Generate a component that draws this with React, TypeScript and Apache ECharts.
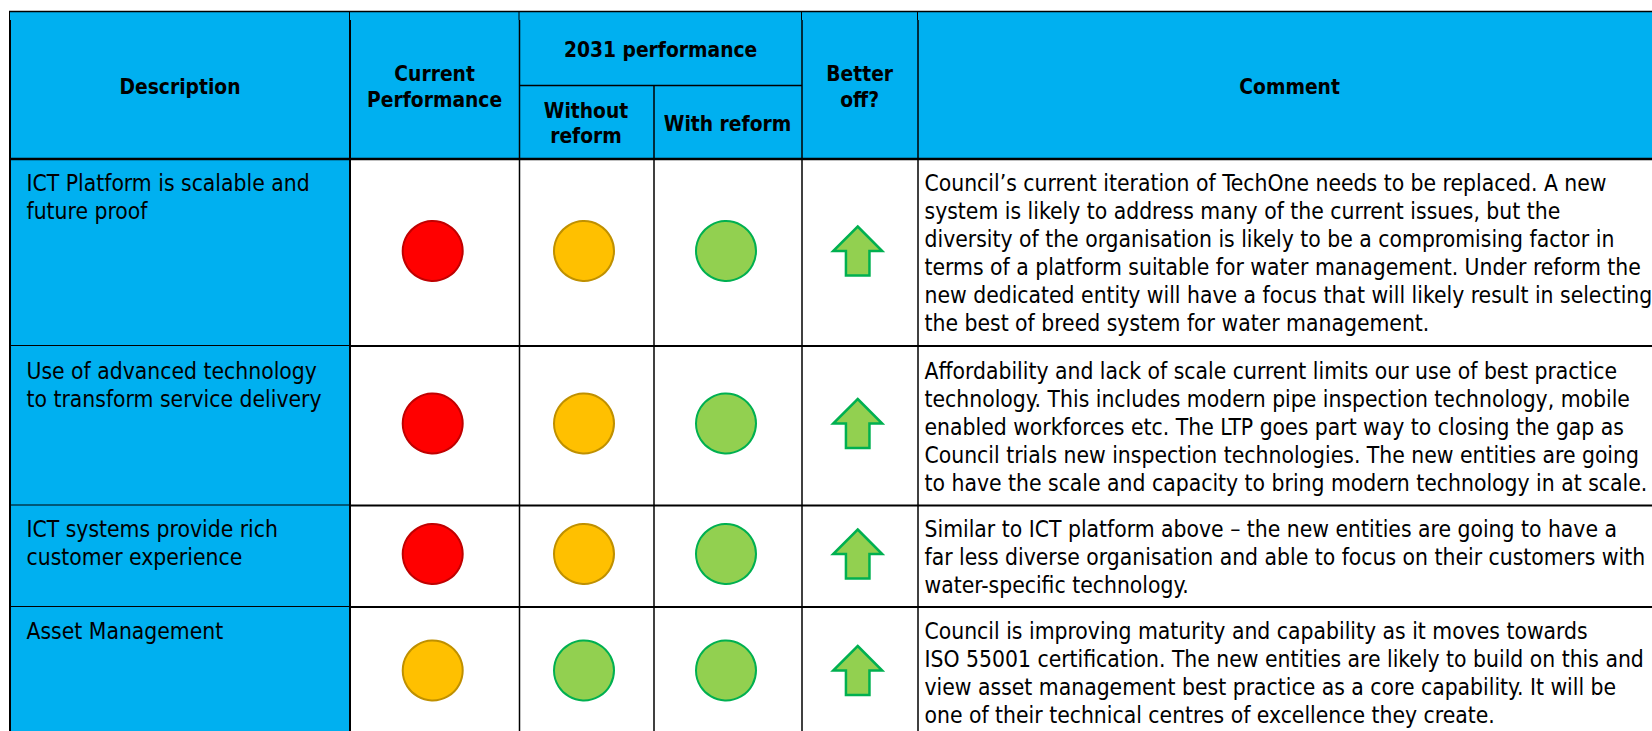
import React, { useEffect, useRef } from "react";
import * as echarts from "echarts";

// ---- content ----
const descriptions = [
  ["ICT Platform is scalable and", "future proof"],
  ["Use of advanced technology", "to transform service delivery"],
  ["ICT systems provide rich", "customer experience"],
  ["Asset Management"],
];
const currentPerformance = ["red", "red", "red", "amber"];
const withoutReform = ["amber", "amber", "amber", "green"];
const withReform = ["green", "green", "green", "green"];
const betterOff = ["up", "up", "up", "up"];
const comments = [
  [
    "Council’s current iteration of TechOne needs to be replaced. A new",
    "system is likely to address many of the current issues, but the",
    "diversity of the organisation is likely to be a compromising factor in",
    "terms of a platform suitable for water management. Under reform the",
    "new dedicated entity will have a focus that will likely result in selecting",
    "the best of breed system for water management.",
  ],
  [
    "Affordability and lack of scale current limits our use of best practice",
    "technology. This includes modern pipe inspection technology, mobile",
    "enabled workforces etc. The LTP goes part way to closing the gap as",
    "Council trials new inspection technologies. The new entities are going",
    "to have the scale and capacity to bring modern technology in at scale.",
  ],
  [
    "Similar to ICT platform above – the new entities are going to have a",
    "far less diverse organisation and able to focus on their customers with",
    "water-specific technology.",
  ],
  [
    "Council is improving maturity and capability as it moves towards",
    "ISO 55001 certification. The new entities are likely to build on this and",
    "view asset management best practice as a core capability. It will be",
    "one of their technical centres of excellence they create.",
  ],
];

// ---- layout (pixel scale of the hidden axes) ----
const W = 1652;
const H = 731;
const edges = [10, 350, 519.5, 654, 802, 918, 1652];
const headTop = 12;
const headMid = 85.5;
const headBottom = 159;
const rowBottoms = [346, 505.5, 607, 731];
const firstLineY = [182.7, 371, 529, 631];
const lineGap = 28.1;
const markY = [251, 423.5, 554, 670.5];
const colX = { current: 432.7, without: 584, with: 726, better: 857.7 };
const descX = 26.5;
const commentX = 924.5;

const FONT = "'DejaVu Sans Condensed', 'DejaVu Sans', sans-serif";
const BLUE = "#00B0F0";
const ratingFill: Record<string, string> = { red: "#FF0000", amber: "#FFC000", green: "#92D050" };
const ratingStroke: Record<string, string> = { red: "#C00000", amber: "#BF9000", green: "#00B050" };

type Cell = { value: number[]; color: string };
const cells: Cell[] = [
  { value: [edges[0], headTop, W, headBottom], color: BLUE },
  { value: [edges[0], headBottom, edges[1], H], color: BLUE },
];

type Seg = { value: number[]; width: number; color?: string };
const segs: Seg[] = [
  { value: [9, headTop - 0.5, W, headTop - 0.5], width: 1.5 },
  { value: [edges[2], headMid, edges[4], headMid], width: 1.5 },
  { value: [edges[0], headBottom, W, headBottom], width: 2.5 },
];
rowBottoms.slice(0, 3).forEach((y) => {
  segs.push({ value: [edges[0], y - 0.5, edges[1], y - 0.5], width: 1 });
  segs.push({ value: [edges[1], y, W, y], width: 2 });
});
edges.slice(0, 5 + 1).forEach((x, i) => {
  const w = i < 2 ? 2 : 1.5;
  if (i === 3) {
    segs.push({ value: [x, headMid, x, H], width: w });
  } else {
    segs.push({ value: [x, 20, x, H], width: w });
    segs.push({ value: [x - 0.5, headTop, x - 0.5, 20], width: 1 });
  }
});

type Txt = { value: number[]; text: string; bold: boolean; align: string };
const texts: Txt[] = [];
const head = (x: number, y: number, text: string) =>
  texts.push({ value: [x, y], text, bold: true, align: "center" });
head(180, 86.5, "Description");
head(434.6, 73.5, "Current");
head(434.6, 100, "Performance");
head(660.6, 50, "2031 performance");
head(586, 110.5, "Without");
head(586, 136, "reform");
head(727.5, 124, "With reform");
head(859.7, 73.5, "Better");
head(859.7, 100, "off?");
head(1289.6, 86.5, "Comment");
descriptions.forEach((lines, r) =>
  lines.forEach((text, i) =>
    texts.push({ value: [descX, firstLineY[r] + i * lineGap], text, bold: false, align: "left" })
  )
);
comments.forEach((lines, r) =>
  lines.forEach((text, i) =>
    texts.push({ value: [commentX, firstLineY[r] + i * lineGap], text, bold: false, align: "left" })
  )
);

const ratingPoints = (ratings: string[], x: number) =>
  ratings.map((rating, r) => ({
    value: [x, markY[r]],
    itemStyle: {
      color: ratingFill[rating],
      borderColor: ratingStroke[rating],
      borderWidth: 2,
      opacity: 1,
    },
  }));

const ARROW = "path://M25 0 L50 25 L37 25 L37 50 L13 50 L13 25 L0 25 Z";

export default function App() {
  const ref = useRef<HTMLDivElement>(null);
  useEffect(() => {
    const chart = echarts.init(ref.current!, undefined, { renderer: "svg" });
    chart.setOption({
      animation: false,
      backgroundColor: "#fff",
      grid: { left: 0, top: 0, width: W, height: H },
      xAxis: { type: "value", min: 0, max: W, show: false },
      yAxis: { type: "value", min: 0, max: H, inverse: true, show: false },
      series: [
        {
          type: "custom",
          z: 1,
          silent: true,
          clip: false,
          data: cells,
          renderItem: (p: any, api: any) => {
            const a = api.coord([api.value(0), api.value(1)]);
            const b = api.coord([api.value(2), api.value(3)]);
            return {
              type: "rect",
              shape: { x: a[0], y: a[1], width: b[0] - a[0], height: b[1] - a[1] },
              style: { fill: cells[p.dataIndex].color, stroke: null },
            };
          },
        },
        {
          type: "custom",
          z: 2,
          silent: true,
          clip: false,
          data: segs,
          renderItem: (p: any, api: any) => {
            const a = api.coord([api.value(0), api.value(1)]);
            const b = api.coord([api.value(2), api.value(3)]);
            return {
              type: "line",
              shape: { x1: a[0], y1: a[1], x2: b[0], y2: b[1] },
              style: { stroke: "#000", lineWidth: segs[p.dataIndex].width },
            };
          },
        },
        {
          type: "custom",
          z: 3,
          silent: true,
          clip: false,
          data: texts,
          renderItem: (p: any, api: any) => {
            const t = texts[p.dataIndex];
            const a = api.coord([api.value(0), api.value(1)]);
            return {
              type: "text",
              x: a[0],
              y: a[1],
              style: {
                text: t.text,
                fill: "#000",
                fontFamily: FONT,
                fontSize: t.bold ? 20.8 : 22.7,
                fontWeight: t.bold ? "bold" : "normal",
                align: t.align,
                verticalAlign: "middle",
              },
            };
          },
        },
        {
          type: "scatter",
          z: 4,
          silent: true,
          clip: false,
          symbol: "circle",
          symbolSize: 60,
          data: [
            ...ratingPoints(currentPerformance, colX.current),
            ...ratingPoints(withoutReform, colX.without),
            ...ratingPoints(withReform, colX.with),
          ],
        },
        {
          type: "scatter",
          z: 4,
          silent: true,
          clip: false,
          symbol: ARROW,
          symbolSize: [49, 49],
          itemStyle: { color: "#92D050", borderColor: "#00B050", borderWidth: 2.5, opacity: 1 },
          data: betterOff.map((_, r) => [colX.better, markY[r]]),
        },
      ],
    });
    return () => chart.dispose();
  }, []);
  return <div ref={ref} style={{ position: "fixed", left: 0, top: 0, width: W, height: H }} />;
}
